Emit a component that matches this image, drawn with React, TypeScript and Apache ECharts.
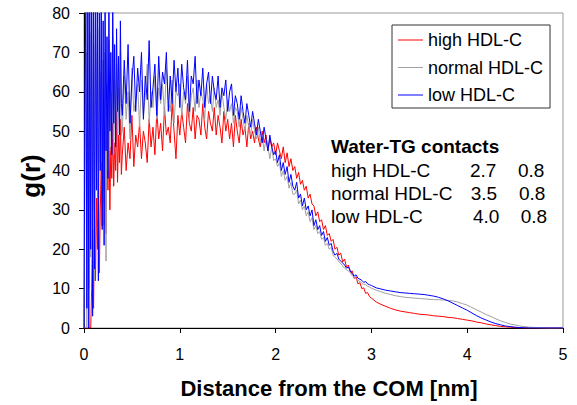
import React, { useEffect, useRef } from "react";
import * as echarts from "echarts";

// Sample grid (nm): 0.01 steps to 0.39, 0.02 steps from 0.40 to 3.00, 0.05 steps to 5.00
const distance: number[] = [];
for (let i = 0; i < 40; i++) distance.push(+(i * 0.01).toFixed(2));
for (let j = 0; j <= 130; j++) distance.push(+(0.4 + j * 0.02).toFixed(2));
for (let k = 1; k <= 40; k++) distance.push(+(3 + k * 0.05).toFixed(2));

// ---------- high HDL-C (red) ----------
const highStart = [
  0, 0, 0, 0, 0, 0, 0, 0, 10, 25,
  5, 28, 12, 33, 20, 38, 14, 30, 42, 26,
  40, 32, 45, 24, 48, 35, 50, 30, 46, 38,
  52, 36, 47, 40, 55, 37, 49, 42, 53, 39,
];
const highMid = [
  44, 51, 40, 47, 43, 54, 41, 49, 46, 52,
  43, 50, 47, 42, 53, 46, 51, 44, 55, 48,
  52, 45, 56, 49, 51, 47, 57, 50, 43, 54,
  49, 55, 51, 47, 57, 52, 50, 56, 48, 54,
  53, 49, 57, 51, 48, 55, 52, 50, 56, 49,
  54, 51, 47, 55, 50, 53, 48, 52, 46, 54,
  50, 47, 53, 49, 51, 46, 52, 48, 50, 47,
  51, 48, 46, 50, 47, 49, 45, 48, 46, 47,
  44, 47, 45, 43, 46, 42, 44.5, 41, 43, 40,
  41, 38, 39.5, 36.5, 37.5, 35, 36, 33, 34, 31.5,
  31, 28.5, 29.5, 27, 27.5, 25, 26, 23.5, 24, 22,
  22.5, 20, 20.5, 18.5, 19, 16.8, 17.5, 15.5, 16, 14.2,
  14.5, 12.6, 13, 11.2, 11.5, 10, 10.2, 8.8, 9, 8,
  7.6,
];
const highTail = [
  6.6, 6.0, 5.5, 5.0, 4.6, 4.3, 4.1, 3.9, 3.7, 3.5,
  3.4, 3.3, 3.1, 3.0, 2.9, 2.7, 2.6, 2.4, 2.2, 2.0,
  1.8, 1.5, 1.3, 1.0, 0.8, 0.6, 0.4, 0.3, 0.2, 0.1,
  0.05, 0, 0, 0, 0, 0, 0, 0, 0, 0,
];

// ---------- normal HDL-C (gray) ----------
const normalStart = [
  0, 40, 70, 0, 82, 10, 75, 18, 80, 30,
  72, 12, 78, 38, 70, 28, 76, 42, 65, 35,
  68, 26, 70, 17, 62, 40, 73, 45, 60, 48,
  74, 44, 63, 50, 67, 47, 61, 52, 70, 49,
];
const normalMid = [
  50, 64, 53, 60, 48, 66, 55, 58, 62, 51,
  63, 54, 59, 67, 52, 60, 56, 64, 53, 61,
  57, 62, 54, 66, 58, 55, 63, 52, 60, 59,
  62, 54, 60, 57, 64, 53, 59, 61, 55, 63,
  56, 60, 58, 53, 62, 57, 59, 55, 61, 56,
  58, 54, 60, 56, 53, 58, 55, 57, 52, 56,
  55, 51, 56, 53, 50, 54, 51, 49, 53, 50,
  48, 51, 47, 49, 45, 48, 46, 43, 46, 42.5,
  43, 41, 42, 38.5, 40, 37.5, 38.5, 35.5, 37, 34,
  34, 35, 31.5, 32.5, 30, 31, 28.5, 29.5, 27, 28,
  25, 26, 24, 24.5, 22.5, 23, 21, 21.5, 20, 20.5,
  18.5, 18, 17.6, 16.8, 16.4, 15.8, 15.2, 14.8, 14.5, 14,
  13.3, 12.8, 12.6, 12.1, 11.8, 11.5, 11.1, 11, 10.6, 10.4,
  10.1,
];
const normalTail = [
  9.6, 9.2, 8.8, 8.5, 8.2, 8.0, 7.8, 7.7, 7.6, 7.5,
  7.4, 7.3, 7.2, 7.2, 7.1, 7.0, 6.9, 6.6, 6.2, 5.8,
  5.2, 4.6, 4.0, 3.4, 2.9, 2.3, 1.8, 1.4, 1.0, 0.8,
  0.5, 0.35, 0.2, 0.15, 0.1, 0.05, 0, 0, 0, 0,
];

// ---------- low HDL-C (blue) ----------
const lowStart = [
  0, 60, 85, 5, 90, 0, 88, 20, 92, 3,
  86, 15, 90, 35, 84, 12, 80, 40, 88, 25,
  78, 21, 85, 45, 74, 38, 82, 50, 70, 44,
  83, 52, 72, 46, 76, 55, 69, 49, 78, 57,
];
const lowMid = [
  54, 68, 57, 72, 52, 63, 69, 55, 66, 60,
  70, 53, 64, 58, 73, 56, 61, 67, 54, 69,
  58, 65, 62, 70, 55, 64, 57, 68, 60, 66,
  56, 67, 61, 58, 68, 55, 64, 62, 69, 57,
  63, 59, 66, 56, 62, 65, 57, 64, 60, 58,
  64, 56, 61, 59, 63, 55, 60, 62, 54, 59,
  57, 53, 59, 55, 52, 57, 54, 51, 55, 52,
  49, 53, 50, 47, 51, 48, 45, 49, 46, 44,
  45, 42, 44, 40, 42, 39, 41, 37, 39, 36,
  35, 37, 33, 34, 31, 33, 30, 31, 28.5, 30,
  26, 27.5, 25, 26, 23.5, 24.5, 22, 23, 21, 21.5,
  19.5, 18.5, 19, 17.5, 17, 16.5, 16, 15.2, 15.5, 14.5,
  13.8, 13.2, 13.5, 12.6, 12.4, 12.1, 11.6, 11.8, 11.2, 11,
  10.8,
];
const lowTail = [
  10.2, 9.9, 9.6, 9.4, 9.2, 9.0, 8.9, 8.8, 8.7, 8.6,
  8.5, 8.3, 8.1, 7.8, 7.4, 6.9, 6.3, 5.7, 5.1, 4.5,
  3.8, 3.1, 2.5, 2.0, 1.5, 1.1, 0.8, 0.5, 0.35, 0.2,
  0.1, 0.05, 0, 0, 0, 0, 0, 0, 0, 0,
];

const seriesNames = ["high HDL-C", "normal HDL-C", "low HDL-C"];
const seriesColors = ["#ff0000", "#a0a0a0", "#0000ff"];
const seriesValues = [
  [...highStart, ...highMid, ...highTail],
  [...normalStart, ...normalMid, ...normalTail],
  [...lowStart, ...lowMid, ...lowTail],
];

const contactsTitle = "Water-TG contacts";
const contactRows = [
  { label: "high HDL-C", a: "2.7", b: "0.8" },
  { label: "normal HDL-C", a: "3.5", b: "0.8" },
  { label: "low HDL-C", a: "4.0", b: "0.8" },
];

const FONT = "'Liberation Sans', Arial, sans-serif";

export default function App() {
  const ref = useRef<HTMLDivElement>(null);
  useEffect(() => {
    if (!ref.current) return;
    const chart = echarts.init(ref.current, undefined, { renderer: "svg" });

    const rowY = [170, 193.3, 216];
    const colA = [470, 470.7, 473];
    const colB = [518, 519, 520.7];
    const graphics: any[] = [
      {
        type: "text",
        x: 331,
        y: 146.7,
        style: {
          text: contactsTitle,
          font: `bold 19px ${FONT}`,
          fill: "#000",
          align: "left",
          verticalAlign: "middle",
        },
      },
      {
        type: "text",
        x: 329,
        y: 388,
        style: {
          text: "Distance from the COM [nm]",
          font: `bold 22px ${FONT}`,
          fill: "#000",
          align: "center",
          verticalAlign: "middle",
        },
      },
      {
        type: "text",
        x: 31,
        y: 176,
        rotation: Math.PI / 2,
        style: {
          text: "g(r)",
          font: `bold 26px ${FONT}`,
          fill: "#000",
          align: "center",
          verticalAlign: "middle",
        },
      },
    ];
    contactRows.forEach((r, i) => {
      [
        [331, r.label],
        [colA[i], r.a],
        [colB[i], r.b],
      ].forEach(([x, t]) => {
        graphics.push({
          type: "text",
          x: x as number,
          y: rowY[i],
          style: {
            text: t as string,
            font: `19px ${FONT}`,
            fill: "#000",
            align: "left",
            verticalAlign: "middle",
          },
        });
      });
    });

    chart.setOption({
      animation: false,
      textStyle: { fontFamily: FONT },
      grid: {
        left: 84,
        right: 14,
        top: 13,
        bottom: 77,
        show: true,
        borderColor: "#999",
        borderWidth: 1,
        backgroundColor: "transparent",
      },
      xAxis: {
        type: "value",
        min: 0,
        max: 5,
        interval: 1,
        axisLine: { show: true, onZero: false, lineStyle: { color: "#000", width: 1 } },
        axisTick: { show: true, length: 5, lineStyle: { color: "#000" } },
        axisLabel: { fontSize: 16, color: "#000", margin: 18, fontFamily: FONT },
        splitLine: { show: false },
      },
      yAxis: {
        type: "value",
        min: 0,
        max: 80,
        interval: 10,
        axisLine: { show: true, onZero: false, lineStyle: { color: "#000", width: 1 } },
        axisTick: { show: true, length: 5, lineStyle: { color: "#000" } },
        axisLabel: { fontSize: 16, color: "#000", margin: 14, fontFamily: FONT },
        splitLine: { show: false },
      },
      legend: {
        orient: "vertical",
        left: 392,
        top: 25,
        padding: [6, 7, 4, 6],
        itemGap: 9.5,
        itemWidth: 25,
        itemHeight: 1,
        icon: "rect",
        backgroundColor: "#fff",
        borderColor: "#333",
        borderWidth: 1,
        borderRadius: 0,
        textStyle: { fontSize: 18, color: "#000", fontFamily: FONT, lineHeight: 18 },
        data: seriesNames,
      },
      graphic: graphics,
      series: seriesNames.map((name, k) => ({
        name,
        type: "line",
        symbol: "none",
        showSymbol: false,
        color: seriesColors[k],
        lineStyle: { color: seriesColors[k], width: 1 },
        data: distance.map((d, i) => [d, seriesValues[k][i]]),
        z: 2 + k,
      })),
    });
    return () => chart.dispose();
  }, []);
  return (
    <div
      ref={ref}
      style={{ position: "fixed", left: 0, top: 0, width: 577, height: 405, background: "#fff" }}
    />
  );
}
